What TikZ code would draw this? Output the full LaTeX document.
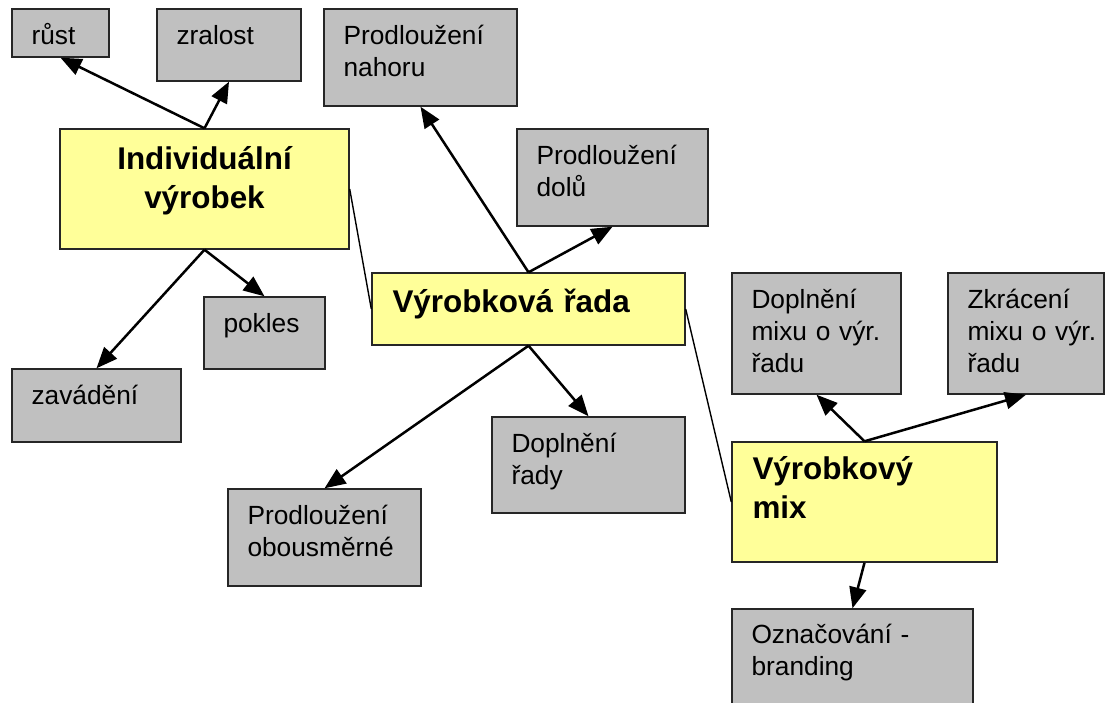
\documentclass[tikz,border=0pt]{standalone}
\usepackage{fontspec}
\setmainfont{Liberation Sans}
\usetikzlibrary{arrows.meta}
\definecolor{boxgray}{HTML}{C0C0C0}
\definecolor{boxyellow}{HTML}{FFFF99}
\tikzset{
  gbox/.style={draw=black!85, line width=1.4pt, fill=boxgray, inner sep=0pt},
  ybox/.style={draw=black!85, line width=1.4pt, fill=boxyellow, inner sep=0pt},
  gtext/.style={anchor=base west, inner sep=0pt, text width=170pt, align=left,
    font=\fontsize{26.3}{32}\selectfont},
  ytext/.style={anchor=base west, inner sep=0pt, text width=260pt, align=left,
    font=\bfseries\fontsize{31.4}{39.5}\selectfont},
  arr/.style={line width=2.5pt, -{Triangle[length=21pt,width=17pt]}},
  link/.style={line width=1.4pt},
}
\begin{document}
\begin{tikzpicture}[x=1pt,y=-1pt]
        \useasboundingbox (0,0) rectangle (1105,703);
        % hlavni uzly
        \node[ybox, minimum width=289, minimum height=120] (ind) at (204.5,189) {};
        \node[ybox, minimum width=313, minimum height=72] (rada) at (528.5,309) {};
        \node[ybox, minimum width=265, minimum height=120] (mix) at (864.5,502) {};
        % zivotni cyklus
        \node[gbox, minimum width=97, minimum height=48] (rust) at (60.5,33) {};
        \node[gbox, minimum width=144, minimum height=72] (zralost) at (229,45) {};
        \node[gbox, minimum width=121, minimum height=72] (pokles) at (264.5,333) {};
        \node[gbox, minimum width=169, minimum height=73] (zavadeni) at (96.5,405.5) {};
        % rada
        \node[gbox, minimum width=193, minimum height=97] (nahoru) at (420.5,57.5) {};
        \node[gbox, minimum width=191, minimum height=97] (dolu) at (612.5,177.5) {};
        \node[gbox, minimum width=193, minimum height=96] (doplneni) at (588.5,465) {};
        \node[gbox, minimum width=193, minimum height=97] (obou) at (324.5,537.5) {};
        % mix
        \node[gbox, minimum width=169, minimum height=121] (mixplus) at (816.5,333.5) {};
        \node[gbox, minimum width=156, minimum height=121] (mixminus) at (1026,333.5) {};
        \node[gbox, minimum width=241, minimum height=97] (brand) at (852.5,657.5) {};

        \node[ytext, anchor=base, align=center] (ind-t) at ([yshift=-41]ind.north) {Individuální\\výrobek};
        \node[ytext] (rada-t) at ([shift={(21,40)}]rada.north west) {Výrobková řada};
        \node[ytext] (mix-t) at ([shift={(21,38)}]mix.north west) {Výrobkový\\mix};

        \node[gtext] (rust-t) at ([shift={(20,36)}]rust.north west) {růst};
        \node[gtext] (zralost-t) at ([shift={(20,36)}]zralost.north west) {zralost};
        \node[gtext] (pokles-t) at ([shift={(20,36)}]pokles.north west) {pokles};
        \node[gtext] (zavadeni-t) at ([shift={(20,36)}]zavadeni.north west) {zavádění};
        \node[gtext] (nahoru-t) at ([shift={(20,36)}]nahoru.north west) {Prodloužení\\nahoru};
        \node[gtext] (dolu-t) at ([shift={(20,36)}]dolu.north west) {Prodloužení\\dolů};
        \node[gtext] (doplneni-t) at ([shift={(20,36)}]doplneni.north west) {Doplnění\\řady};
        \node[gtext] (obou-t) at ([shift={(20,36)}]obou.north west) {Prodloužení\\obousměrné};
        \node[gtext] (mixplus-t) at ([shift={(20,36)}]mixplus.north west) {Doplnění\\mixu o výr.\\řadu};
        \node[gtext] (mixminus-t) at ([shift={(20,36)}]mixminus.north west) {Zkrácení\\mixu o výr.\\řadu};
        \node[gtext] (brand-t) at ([shift={(20,35)}]brand.north west) {Označování -\\branding};

        \draw[link] (ind.east) -- (rada.west);
        \draw[link] (rada.east) -- (mix.west);

        \draw[arr] (ind.north) -- (rust.south);
        \draw[arr] (ind.north) -- (zralost.south);
        \draw[arr] (ind.south) -- (pokles.north);
        \draw[arr] (ind.south) -- (zavadeni.north);
        \draw[arr] (rada.north) -- (nahoru.south);
        \draw[arr] (rada.north) -- (dolu.south);
        \draw[arr] (rada.south) -- (doplneni.north);
        \draw[arr] (rada.south) -- (obou.north);
        \draw[arr] (mix.north) -- (mixplus.south);
        \draw[arr] (mix.north) -- (mixminus.south);
        \draw[arr] (mix.south) -- (brand.north);
\end{tikzpicture}
\end{document}
